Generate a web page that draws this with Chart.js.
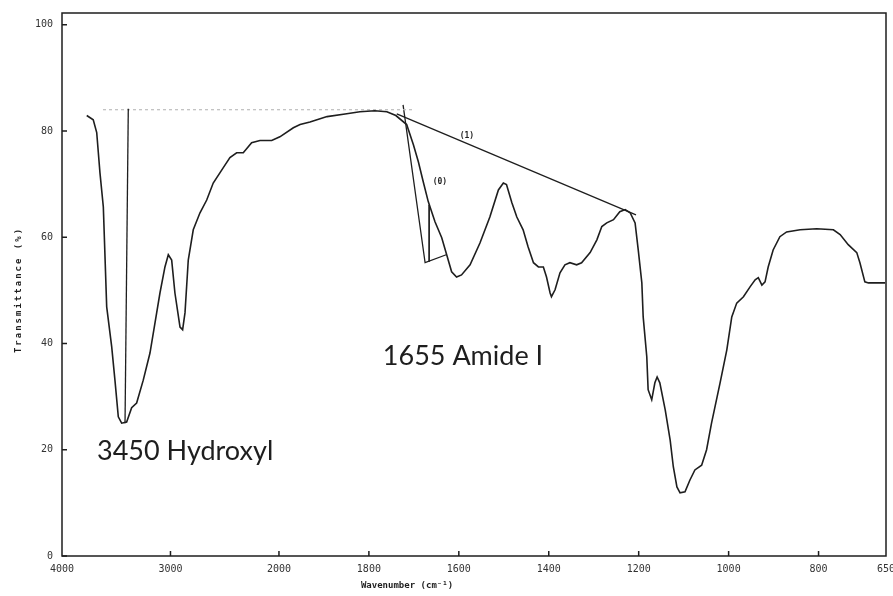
<!DOCTYPE html>
<html lang="en">
<head>
<meta charset="UTF-8">
<title>FTIR spectrum</title>
<script src="https://cdn.jsdelivr.net/npm/chart.js@4"></script>
<style>
  html, body { margin: 0; padding: 0; background: #fff; }
</style>
</head>
<body>
<canvas id="chart" width="893" height="596"></canvas>
<script>
// Spectrum, wavenumber (cm-1) vs transmittance (%)
const wavenumbers = [
  3772, 3712, 3680, 3650, 3619, 3588, 3542, 3512, 3481, 3450, 3404, 3358, 3312, 3251,
  3189, 3127, 3097, 3051, 3020, 2989, 2959, 2912, 2888, 2866, 2836, 2790, 2728, 2666,
  2606, 2513, 2452, 2390, 2329, 2252, 2175, 2067, 1998, 1968, 1953, 1931, 1893, 1853,
  1820, 1787, 1760, 1740, 1716, 1701, 1690, 1679, 1668, 1653, 1638, 1627, 1616, 1605,
  1594, 1575, 1553, 1531, 1512, 1501, 1494, 1482, 1471, 1457, 1446, 1434, 1423, 1412,
  1405, 1397, 1394, 1386, 1375, 1364, 1353, 1338, 1327, 1308, 1293, 1282, 1271, 1256,
  1242, 1230, 1219, 1208, 1201, 1193, 1190, 1182, 1179, 1171, 1164, 1159, 1153, 1141,
  1130, 1123, 1115, 1108, 1097, 1086, 1075, 1060, 1049, 1038, 1019, 1004, 993, 982,
  967, 952, 941, 934, 926, 919, 912, 901, 886, 871, 841, 804, 767, 752, 734, 715,
  708, 697, 689, 652
]
const transmittance = [
  82.9, 82.1, 79.7, 72.1, 65.7, 46.9, 39.4, 33.1, 26.2, 25.0, 25.2, 27.9, 28.8, 33.1,
  38.2, 45.8, 49.5, 54.4, 56.7, 55.7, 49.5, 43.1, 42.6, 45.8, 55.7, 61.4, 64.6, 67.0,
  70.2, 73.1, 75.0, 75.9, 75.9, 77.8, 78.2, 78.2, 78.9, 80.6, 81.2, 81.7, 82.7, 83.2,
  83.6, 83.8, 83.6, 82.9, 81.2, 77.4, 74.2, 70.4, 66.7, 62.9, 59.9, 56.7, 53.5, 52.5,
  52.9, 54.8, 58.9, 63.8, 68.9, 70.2, 69.9, 66.5, 63.8, 61.4, 58.2, 55.2, 54.4, 54.4,
  52.5, 49.5, 48.8, 50.1, 53.3, 54.8, 55.2, 54.8, 55.2, 57.1, 59.5, 62.0, 62.7, 63.3,
  64.8, 65.2, 64.6, 62.7, 57.6, 51.4, 45.0, 37.5, 31.3, 29.4, 32.6, 33.7, 32.6, 27.5,
  21.8, 16.8, 13.0, 11.9, 12.1, 14.3, 16.2, 17.1, 20.0, 25.0, 32.6, 38.8, 45.0, 47.6,
  48.8, 50.7, 52.0, 52.4, 51.0, 51.6, 54.4, 57.6, 60.1, 61.0, 61.4, 61.6, 61.4, 60.5, 58.6, 57.1,
  55.2, 51.6, 51.4, 51.4
]

// Hand-drawn construction lines on the chart
const hydroxylMarkWn = [3389, 3419]
const hydroxylMarkT = [84.2, 25.0]
const hydroxylBaseWn = [3622, 1704]
const hydroxylBaseT = [84.0, 84.0]
const amideLine1Wn = [1738, 1206]
const amideLine1T = [83.2, 64.2]
const amideLine0Wn = [1724, 1675, 1628]
const amideLine0T = [84.9, 55.2, 56.7]
const amideStemWn = [1666, 1666]
const amideStemT = [66.1, 55.4]

// Axis ticks
const xTicks = [4000, 3000, 2000, 1800, 1600, 1400, 1200, 1000, 800, 650]
const yTicks = [0, 20, 40, 60, 80, 100]

const notes = [
  { text: '3450 Hydroxyl', wn: 3677, t: 18.1, font: '27px Lato', align: 'left' },
  { text: '1655 Amide I', wn: 1769, t: 36.0, font: '27px Lato', align: 'left' },
  { text: '(1)', wn: 1582, t: 78.7, font: 'bold 8px "DejaVu Sans Mono"', align: 'center' },
  { text: '(0)', wn: 1642, t: 70.1, font: 'bold 8px "DejaVu Sans Mono"', align: 'center' },
]

// x axis changes scale at 2000 cm-1 (4000-2000 compressed)
const SPLIT = 2000, SPLIT_FRAC = 0.2633
function toFrac(wn) {
  if (wn >= SPLIT) return (4000 - wn) / (4000 - SPLIT) * SPLIT_FRAC
  return SPLIT_FRAC + (SPLIT - wn) / (SPLIT - 650) * (1 - SPLIT_FRAC)
}
function fromFrac(f) {
  if (f <= SPLIT_FRAC) return 4000 - f / SPLIT_FRAC * (4000 - SPLIT)
  return SPLIT - (f - SPLIT_FRAC) / (1 - SPLIT_FRAC) * (SPLIT - 650)
}

class BreakScale extends Chart.LinearScale {
  static id = 'break'
  static defaults = {}
  buildTicks() { return xTicks.map(value => ({ value })) }
  getPixelForValue(v) { return this.getPixelForDecimal(toFrac(v)) }
  getValueForPixel(p) { return fromFrac(this.getDecimalForPixel(p)) }
}
Chart.register(BreakScale)

const pts = (xs, ys) => xs.map((x, i) => ({ x, y: ys[i] }))
const ink = '#1e1e1e'
const lineSet = (data, extra) => Object.assign({
  data, borderColor: ink, borderWidth: 1.3, pointRadius: 0, tension: 0, fill: false
}, extra)

// frame, inward tick marks, axis titles and notes
const decor = {
  id: 'decor',
  afterDraw(chart) {
    const { ctx, chartArea: a, scales: { x, y } } = chart
    ctx.save()
    ctx.strokeStyle = ink
    ctx.lineWidth = 1.5
    ctx.strokeRect(a.left, a.top, a.right - a.left, a.bottom - a.top)
    ctx.beginPath()
    yTicks.forEach(v => {
      const py = y.getPixelForValue(v)
      ctx.moveTo(a.left, py); ctx.lineTo(a.left + 5, py)
    })
    xTicks.slice(1, -1).forEach(v => {
      const px = x.getPixelForValue(v)
      ctx.moveTo(px, a.bottom); ctx.lineTo(px, a.bottom - 5)
    })
    ctx.stroke()

    ctx.fillStyle = ink
    ctx.textBaseline = 'alphabetic'
    notes.forEach(n => {
      ctx.font = n.font
      ctx.textAlign = n.align
      ctx.fillText(n.text, x.getPixelForValue(n.wn), y.getPixelForValue(n.t))
    })

    ctx.font = 'bold 9px "DejaVu Sans Mono"'
    ctx.textAlign = 'center'
    ctx.textBaseline = 'middle'
    ctx.fillText('Wavenumber (cm\u207B\u00B9)', 407, 586)
    ctx.translate(19, 290)
    ctx.rotate(-Math.PI / 2)
    ctx.letterSpacing = '2px'
    ctx.fillText('Transmittance (%)', 0, 0)
    ctx.restore()
  }
}

new Chart(document.getElementById('chart'), {
  type: 'line',
  data: {
    datasets: [
      lineSet(pts(wavenumbers, transmittance), { borderWidth: 1.6 }),
      lineSet(pts(hydroxylMarkWn, hydroxylMarkT)),
      lineSet(pts(hydroxylBaseWn, hydroxylBaseT), { borderColor: '#bdbdbd', borderDash: [3, 3], borderWidth: 1.2 }),
      lineSet(pts(amideLine1Wn, amideLine1T)),
      lineSet(pts(amideLine0Wn, amideLine0T)),
      lineSet(pts(amideStemWn, amideStemT), { borderWidth: 1 }),
    ]
  },
  options: {
    responsive: false,
    animation: false,
    layout: { autoPadding: false, padding: { top: 13, right: 7, left: 0, bottom: 0 } },
    plugins: { legend: { display: false }, tooltip: { enabled: false } },
    scales: {
      x: {
        type: 'break',
        min: 650, max: 4000,
        grid: { display: false, drawTicks: false },
        border: { display: false },
        afterFit: s => { s.height = 40; s.paddingLeft = 0; s.paddingRight = 0 },
        ticks: {
          autoSkip: false, maxRotation: 0, padding: 7, color: '#333',
          font: { family: 'DejaVu Sans Mono', size: 10 },
          callback: v => String(v)
        }
      },
      y: {
        min: 0, max: 102.2,
        grid: { display: false, drawTicks: false },
        border: { display: false },
        afterFit: s => { s.width = 62; s.paddingTop = 0; s.paddingBottom = 0 },
        afterBuildTicks: s => { s.ticks = yTicks.map(value => ({ value })) },
        ticks: {
          padding: 9, color: '#333',
          font: { family: 'DejaVu Sans Mono', size: 10 },
          callback: v => String(v)
        }
      }
    }
  },
  plugins: [decor]
})
</script>
</body>
</html>
